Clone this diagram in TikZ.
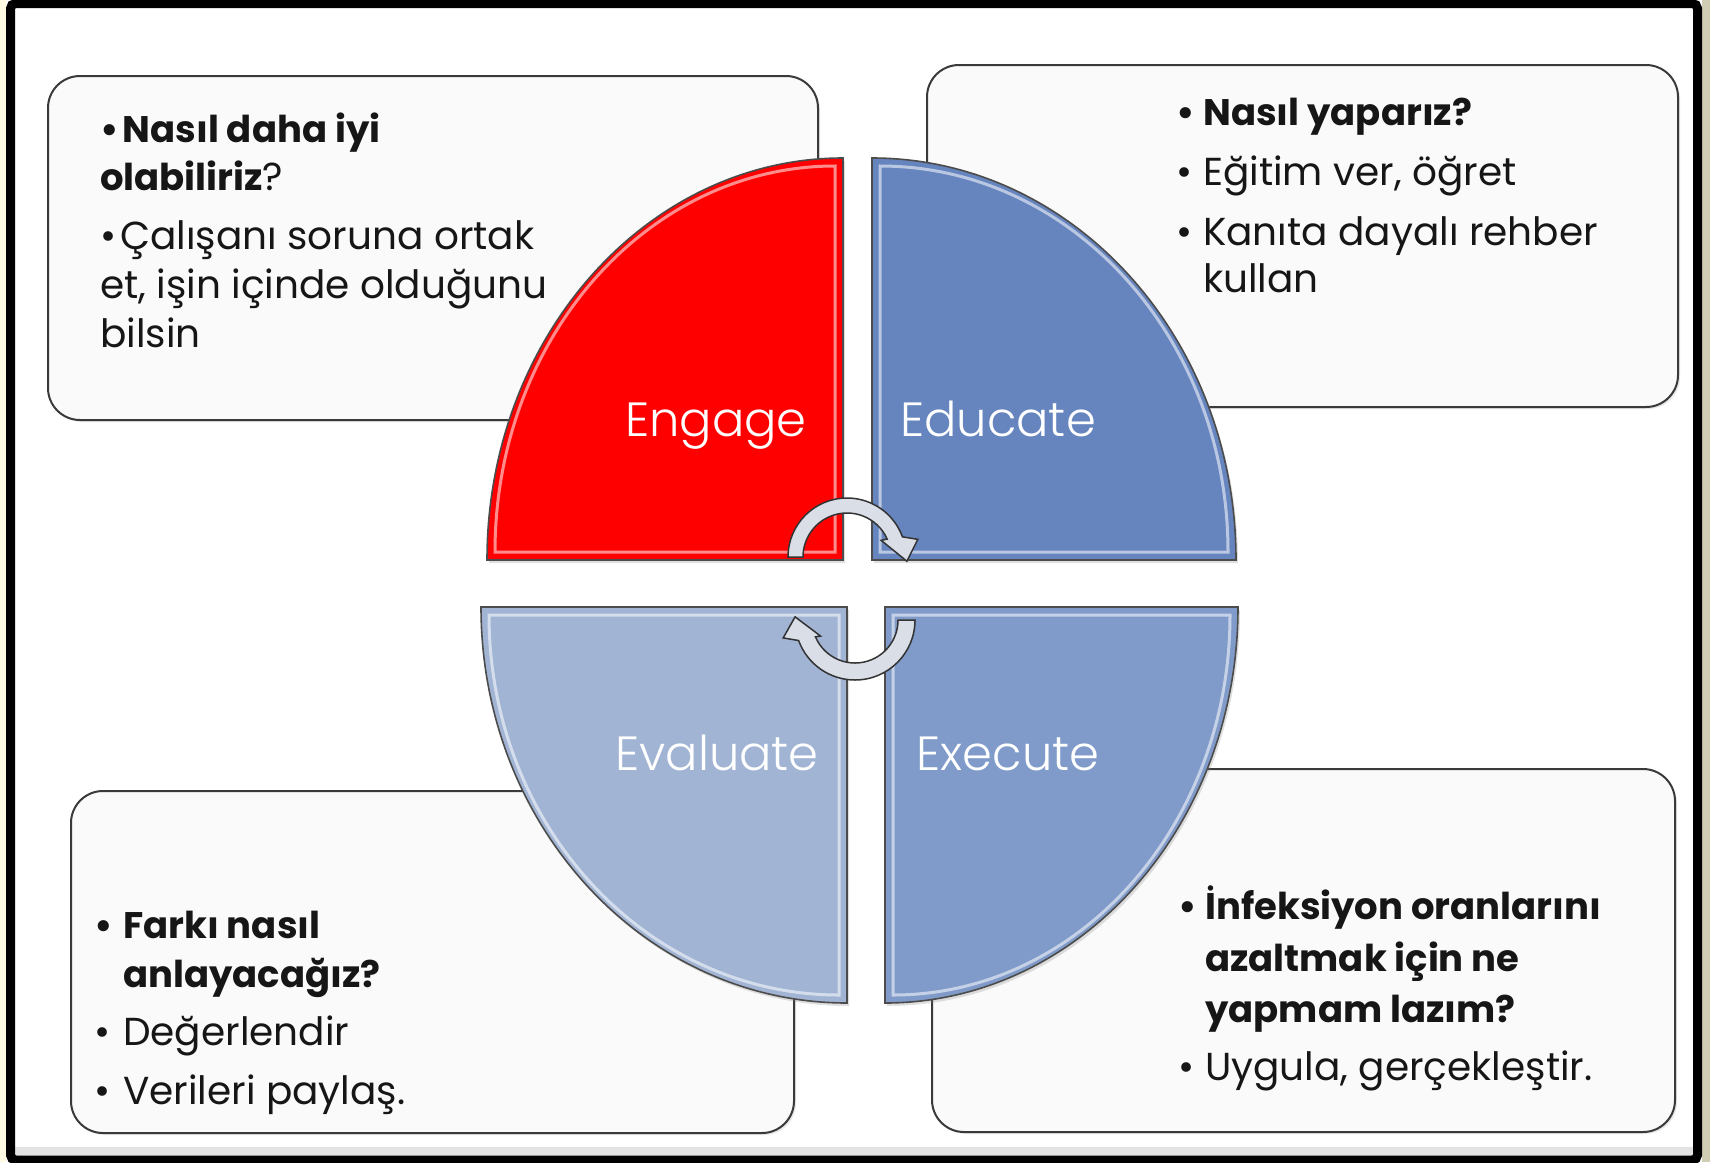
\documentclass[tikz,border=0pt]{standalone}
\usepackage{fontspec}
\setmainfont{Poppins}
\newfontfamily\lightface{Poppins Light}
\usetikzlibrary{calc,shadows}

\definecolor{inktext}{HTML}{161616}
\definecolor{boxfill}{HTML}{FAFAFA}
\definecolor{boxline}{HTML}{3A3A3A}
\definecolor{engagecol}{HTML}{FF0000}
\definecolor{educatecol}{HTML}{6685BF}
\definecolor{executecol}{HTML}{809BC9}
\definecolor{evaluatecol}{HTML}{A1B4D4}
\definecolor{cyclefill}{HTML}{D9DEE7}
\definecolor{paperleft}{HTML}{FFFBE3}
\definecolor{paperright}{HTML}{CFCCB4}
\definecolor{bottomstrip}{HTML}{E3E3E3}

\begin{document}
\begin{tikzpicture}[x=1pt,y=-1pt,
  infobox/.style={draw=boxline,line width=2pt,fill=boxfill,rounded corners=32pt,
     drop shadow={shadow xshift=2pt,shadow yshift=-2pt,opacity=0.18}},
  quarter/.style={draw=black!70,line width=1.6pt,
     drop shadow={shadow xshift=2pt,shadow yshift=-3pt,opacity=0.25}},
  gloss/.style={draw=white,draw opacity=0.55,line width=3pt},
  bodytext/.style={anchor=base west,inner sep=0pt,text=inktext,font=\fontsize{39}{47}\selectfont},
  boldtext/.style={bodytext,font=\fontsize{37}{45}\selectfont\bfseries},
  qlabel/.style={anchor=base,inner sep=0pt,text=white,font=\lightface\fontsize{48}{58}\selectfont},
  cyclearrow/.style={fill=cyclefill,draw=black!80,line width=1.5pt}
]
\useasboundingbox (0,0) rectangle (1710,1162);

% paper and frame
\fill[white] (0,0) rectangle (1710,1162);
\fill[paperleft] (0,0) rectangle (6,1162);
\fill[paperright] (1702,0) rectangle (1710,1162);
\fill[bottomstrip] (15,1147) rectangle (1693,1157);
\draw[black,line width=9pt,rounded corners=5pt] (10.5,3.5) rectangle (1697.5,1160);

% text boxes
\path[infobox] (48,76) rectangle (818,420);
\path[infobox] (927,65) rectangle (1678,407);
\path[infobox] (71,791) rectangle (794,1133);
\path[infobox] (932,769) rectangle (1675,1132);

% quarter discs
\path[quarter,fill=engagecol] (843,560) -- (487,560)
  arc[start angle=180,end angle=270,x radius=356,y radius=402] -- cycle;
\path[gloss] (835,552) -- (495,552)
  arc[start angle=180,end angle=270,x radius=340,y radius=386] -- cycle;

\path[quarter,fill=educatecol] (872,560) -- (872,158)
  arc[start angle=270,end angle=360,x radius=364,y radius=402] -- cycle;
\path[gloss] (880,552) -- (880,166)
  arc[start angle=270,end angle=360,x radius=348,y radius=386] -- cycle;

\path[quarter,fill=evaluatecol] (847,607) -- (481,607)
  arc[start angle=180,end angle=90,x radius=366,y radius=396] -- cycle;
\path[gloss] (839,615) -- (489,615)
  arc[start angle=180,end angle=90,x radius=350,y radius=380] -- cycle;

\path[quarter,fill=executecol] (885,607) -- (1238,607)
  arc[start angle=0,end angle=90,x radius=353,y radius=396] -- cycle;
\path[gloss] (893,615) -- (1230,615)
  arc[start angle=0,end angle=90,x radius=337,y radius=380] -- cycle;

\node[qlabel] (englabel) at (716,436) {Engage};
\node[qlabel] (edulabel) at (998,436) {Educate};
\node[qlabel] (evalabel) at (717,770) {Evaluate};
\node[qlabel] (exelabel) at (1008,770) {Execute};

% cycle arrows
\coordinate (topc) at (847,557);
\coordinate (botc) at (855,620);
\draw[cyclearrow] ($(topc)+(180:59)$) arc[start angle=180,end angle=340,radius=59]
  -- ($(topc)+(346:73)$) -- ($(topc)+(4:60)$) -- ($(topc)+(334:38)$)
  -- ($(topc)+(336:44)$) arc[start angle=336,end angle=180,radius=44] -- cycle;
\draw[cyclearrow] ($(botc)+(0:60)$) arc[start angle=0,end angle=160,radius=60]
  -- ($(botc)+(166:74)$) -- ($(botc)+(183:60)$) -- ($(botc)+(155:38)$)
  -- ($(botc)+(157:43)$) arc[start angle=157,end angle=0,radius=43] -- cycle;

% Engage box text
\node[boldtext] (en1) at (100,142) {•\hspace{4pt}Nasıl daha iyi};
\node[bodytext] (en2) at (100,190) {\textbf{\fontsize{37}{45}\selectfont olabiliriz}?};
\node[bodytext] (en3) at (100,249) {•\hspace{4pt}Çalışanı soruna ortak};
\node[bodytext] (en4) at (100,298) {et, işin içinde olduğunu};
\node[bodytext] (en5) at (100,347) {bilsin};

% Educate box text
\node[boldtext] (ed1) at (1176,125) {\makebox[27pt][l]{•}Nasıl yaparız?};
\node[bodytext] (ed2) at (1176,185) {\makebox[27pt][l]{•}Eğitim ver, öğret};
\node[bodytext] (ed3) at (1176,245) {\makebox[27pt][l]{•}Kanıta dayalı rehber};
\node[bodytext] (ed4) at (1203,292) {kullan};

% Evaluate box text
\node[boldtext] (ev1) at (94,938) {\makebox[29pt][l]{•}Farkı nasıl};
\node[boldtext] (ev2) at (123,987) {anlayacağız?};
\node[bodytext] (ev3) at (94,1045) {\makebox[29pt][l]{•}Değerlendir};
\node[bodytext] (ev4) at (94,1104) {\makebox[29pt][l]{•}Verileri paylaş.};

% Execute box text
\node[boldtext] (ex1) at (1178,919) {\makebox[27pt][l]{•}İnfeksiyon oranlarını};
\node[boldtext] (ex2) at (1205,971) {azaltmak için ne};
\node[boldtext] (ex3) at (1205,1022) {yapmam lazım?};
\node[bodytext] (ex4) at (1178,1080) {\makebox[27pt][l]{•}Uygula, gerçekleştir.};
\end{tikzpicture}
\end{document}
